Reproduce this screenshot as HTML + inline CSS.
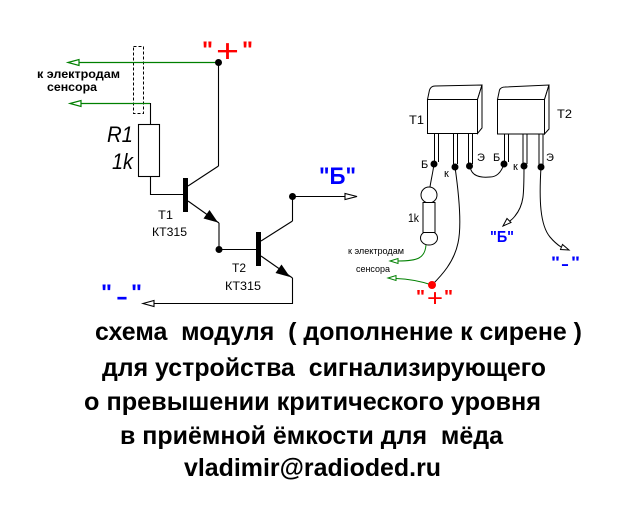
<!DOCTYPE html>
<html><head><meta charset="utf-8"><style>
html,body{margin:0;padding:0;background:#fff;}
svg{display:block;font-family:"Liberation Sans","DejaVu Sans",sans-serif;}
</style></head><body>
<svg width="632" height="516" viewBox="0 0 632 516" xmlns="http://www.w3.org/2000/svg">
<rect width="632" height="516" fill="#fff"/>
<!-- LEFT SCHEMATIC -->
<g fill="none" stroke="#000" stroke-width="1">
  <rect x="133.5" y="46.5" width="10" height="67" stroke-dasharray="3 2"/>
</g>
<g stroke="#008000" stroke-width="1.2" fill="none">
  <line x1="79" y1="62.5" x2="218" y2="62.5"/>
  <line x1="81" y1="103.5" x2="150" y2="103.5"/>
  <polygon points="68,62.5 79,59.5 79,65.5" fill="#fff"/>
  <polygon points="70,103.5 81,100.5 81,106.5" fill="#fff"/>
</g>
<g stroke="#000" stroke-width="1.1" fill="none">
  <line x1="150.5" y1="103" x2="150.5" y2="124"/>
  <rect x="138.5" y="124.5" width="21" height="52" fill="#fff"/>
  <polyline points="150.5,176.5 150.5,194.5 184,194.5"/>
  <line x1="218.5" y1="62" x2="218.5" y2="166"/>
  <line x1="188" y1="186" x2="218.5" y2="166"/>
  <line x1="188" y1="201" x2="219" y2="223"/>
  <polyline points="219,223 219,249.5 256,249.5"/>
  <line x1="261" y1="241" x2="292.5" y2="221"/>
  <polyline points="292.5,221 292.5,196.5 345,196.5"/>
  <polygon points="357,196.5 345,193.5 345,199.5" fill="#fff"/>
  <line x1="261" y1="256" x2="292.5" y2="278"/>
  <polyline points="292.5,278 292.5,303.5 154,303.5"/>
  <polygon points="143,303.5 154,300.5 154,306.5" fill="#fff"/>
</g>
<rect x="183" y="178" width="5" height="34" fill="#000"/>
<rect x="256" y="232" width="5" height="34" fill="#000"/>
<polygon points="218,222.5 203.5,218.5 209.5,210" fill="#000"/>
<polygon points="290,277 275.5,273 281.5,264.5" fill="#000"/>
<circle cx="218.5" cy="62.5" r="3.5" fill="#000"/>
<circle cx="219" cy="249.5" r="3.5" fill="#000"/>
<circle cx="292.5" cy="196.5" r="3.5" fill="#000"/>

<g fill="#000" font-size="12" font-weight="bold">
  <text x="37" y="78" textLength="83" lengthAdjust="spacingAndGlyphs">к электродам</text>
  <text x="47" y="91" textLength="50" lengthAdjust="spacingAndGlyphs">сенсора</text>
</g>
<g fill="#000" font-size="22" font-style="italic">
  <text x="107" y="142" textLength="26" lengthAdjust="spacingAndGlyphs">R1</text>
  <text x="112" y="169" textLength="21" lengthAdjust="spacingAndGlyphs">1k</text>
</g>
<g fill="#000" font-size="12">
  <text x="158" y="219" textLength="15" lengthAdjust="spacingAndGlyphs">T1</text>
  <text x="152" y="236" textLength="35" lengthAdjust="spacingAndGlyphs">КТ315</text>
  <text x="232" y="272" textLength="14" lengthAdjust="spacingAndGlyphs">T2</text>
  <text x="225" y="290" textLength="36" lengthAdjust="spacingAndGlyphs">КТ315</text>
</g>
<!-- "+" red top -->
<g fill="#ff0000">
  <text x="202" y="58" font-size="24" font-weight="bold" textLength="11" lengthAdjust="spacingAndGlyphs">"</text>
  <text x="216" y="62" font-size="32" textLength="23" lengthAdjust="spacingAndGlyphs">+</text>
  <text x="242" y="58" font-size="24" font-weight="bold" textLength="11" lengthAdjust="spacingAndGlyphs">"</text>
</g>
<!-- "-" blue left -->
<g fill="#0000ff" font-weight="bold">
  <text x="101" y="300" font-size="22" textLength="11" lengthAdjust="spacingAndGlyphs">"</text>
  <text x="116" y="304" font-size="22" textLength="12" lengthAdjust="spacingAndGlyphs">-</text>
  <text x="131" y="300" font-size="22" textLength="11" lengthAdjust="spacingAndGlyphs">"</text>
</g>
<!-- "Б" blue top -->
<text x="319" y="184" fill="#0000ff" font-size="24" font-weight="bold" textLength="37" lengthAdjust="spacingAndGlyphs">"Б"</text>

<!-- RIGHT PICTORIAL -->
<g stroke="#000" stroke-width="1" fill="#fff">
  <path d="M427.5,99.5 L429.5,90 Q431,86 435,86 L482,85 L477.5,99.5 Z"/>
  <path d="M477.5,99.5 L482,85 L482,128 L477.5,133.5 Z"/>
  <rect x="427.5" y="99.5" width="50" height="34"/>
  <path d="M497.5,99.5 L499.5,90 Q501,87 505,87 L549,85 L544.5,99.5 Z"/>
  <path d="M544.5,99.5 L549,85 L549,129 L544.5,134 Z"/>
  <rect x="497.5" y="99.5" width="47" height="34.5"/>
</g>
<g stroke="#000" stroke-width="1" fill="none">
  <line x1="434.5" y1="133" x2="434.5" y2="162"/><line x1="438.5" y1="133" x2="438.5" y2="162"/>
  <line x1="453.5" y1="133" x2="453.5" y2="164"/><line x1="457.5" y1="133" x2="457.5" y2="164"/>
  <line x1="468.5" y1="133" x2="468.5" y2="164"/><line x1="472.5" y1="133" x2="472.5" y2="164"/>
  <line x1="504.5" y1="134" x2="504.5" y2="162"/><line x1="508.5" y1="134" x2="508.5" y2="162"/>
  <line x1="523" y1="134" x2="523" y2="164"/><line x1="527" y1="134" x2="527" y2="164"/>
  <line x1="539" y1="134" x2="539" y2="165"/><line x1="543" y1="134" x2="543" y2="165"/>
  <path d="M470,166 C471,176 480,178 490,177 C498,177 502,170 504,164"/>
  <path d="M434,164 C433,172 431,180 430,187"/>
  <path d="M455,167 C459,195 462,225 458,243 C454,262 442,275 432,285"/>
  <path d="M524,166 C524,195 524,205 515,216 C512,220 510,221 508,222"/>
  <path d="M541,167 C539,200 540,225 550,237 C555,243 558,245 561,247"/>
  <polygon points="503,226 511,222.5 507,218.5" fill="#fff"/>
  <polygon points="569,250 560.5,249.5 562.5,244.5" fill="#fff"/>
</g>
<g stroke="#000" stroke-width="1" fill="#fff">
  <circle cx="429" cy="195" r="8"/>
  <ellipse cx="429" cy="238" rx="8.5" ry="7"/>
  <rect x="423" y="202.5" width="12" height="30"/>
</g>
<g stroke="#008000" stroke-width="1" fill="none">
  <path d="M426,245 C425,258 418,261 398,261"/>
  <path d="M432,285 C420,281 410,279 396,278.5"/>
  <polygon points="390,261 398,258.5 398,263.5" fill="#fff"/>
  <polygon points="388,278 396,275.5 396,280.5" fill="#fff"/>
</g>
<circle cx="434" cy="164" r="3.5" fill="#000"/>
<circle cx="455" cy="167" r="3.5" fill="#000"/>
<circle cx="469.5" cy="166" r="3.5" fill="#000"/>
<circle cx="504" cy="164" r="3.5" fill="#000"/>
<circle cx="524" cy="166" r="3.5" fill="#000"/>
<circle cx="541" cy="167" r="3.5" fill="#000"/>
<circle cx="432" cy="285" r="4" fill="#ff0000"/>

<g fill="#000" font-size="12">
  <text x="409" y="124" textLength="15" lengthAdjust="spacingAndGlyphs">T1</text>
  <text x="557" y="118" textLength="15" lengthAdjust="spacingAndGlyphs">T2</text>
  <text x="408" y="222" textLength="11" lengthAdjust="spacingAndGlyphs">1k</text>
</g>
<g fill="#000" font-size="11">
  <text x="421" y="168">Б</text>
  <text x="444" y="177">к</text>
  <text x="477" y="161">Э</text>
  <text x="493" y="161">Б</text>
  <text x="513" y="170">к</text>
  <text x="546" y="161">Э</text>
</g>
<g fill="#000" font-size="9">
  <text x="348" y="254" textLength="56" lengthAdjust="spacingAndGlyphs">к электродам</text>
  <text x="356" y="272" textLength="34" lengthAdjust="spacingAndGlyphs">сенсора</text>
</g>
<text x="490" y="242" fill="#0000ff" font-size="16" font-weight="bold" textLength="24" lengthAdjust="spacingAndGlyphs">"Б"</text>
<g fill="#0000ff" font-weight="bold">
  <text x="551" y="268" font-size="17" textLength="9" lengthAdjust="spacingAndGlyphs">"</text>
  <text x="561" y="269" font-size="16" textLength="8" lengthAdjust="spacingAndGlyphs">-</text>
  <text x="571" y="268" font-size="17" textLength="9" lengthAdjust="spacingAndGlyphs">"</text>
</g>
<g fill="#ff0000">
  <text x="416" y="303" font-size="18" font-weight="bold" textLength="9" lengthAdjust="spacingAndGlyphs">"</text>
  <text x="427" y="306" font-size="24" textLength="16" lengthAdjust="spacingAndGlyphs">+</text>
  <text x="444" y="303" font-size="18" font-weight="bold" textLength="9" lengthAdjust="spacingAndGlyphs">"</text>
</g>

<!-- BOTTOM CAPTION -->
<g fill="#000" font-size="25" font-weight="bold" style="white-space:pre">
  <text x="95" y="340" textLength="487" lengthAdjust="spacingAndGlyphs" xml:space="preserve">схема  модуля  ( дополнение к сирене )</text>
  <text x="102" y="376" textLength="444" lengthAdjust="spacingAndGlyphs" xml:space="preserve">для устройства  сигнализирующего</text>
  <text x="84" y="410" textLength="457" lengthAdjust="spacingAndGlyphs">о превышении критического уровня</text>
  <text x="120" y="444" textLength="383" lengthAdjust="spacingAndGlyphs" xml:space="preserve">в приёмной ёмкости для  мёда</text>
  <text x="184" y="476" textLength="257" lengthAdjust="spacingAndGlyphs">vladimir@radioded.ru</text>
</g>
</svg>
</body></html>
